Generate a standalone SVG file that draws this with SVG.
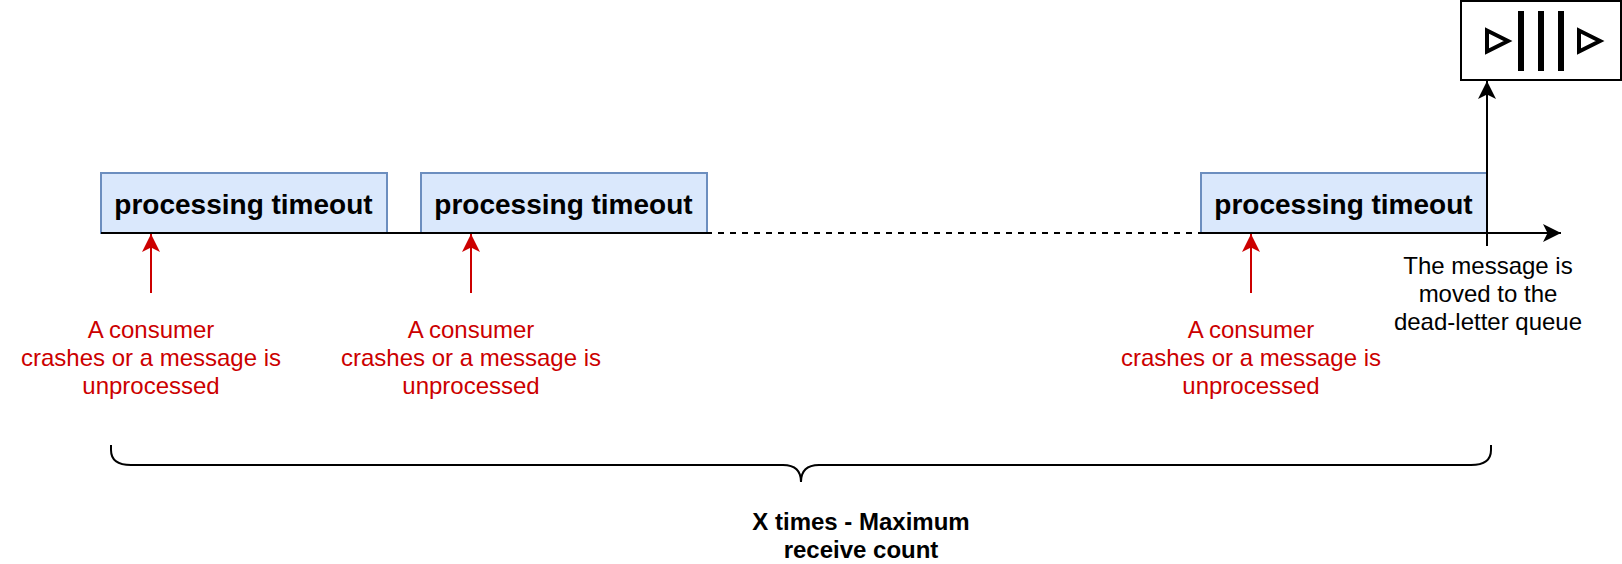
<svg xmlns="http://www.w3.org/2000/svg" width="1622" height="564" viewBox="0 0 1622 564">
<style>
text{font-family:"Liberation Sans",Arial,sans-serif;text-anchor:middle}
.box{fill:#dae8fc;stroke:#6c8ebf;stroke-width:2}
.pt{font-size:28px;font-weight:bold;fill:#000}
.red{font-size:24px;fill:#cc0000}
.blk{font-size:24px;fill:#000}
.bold{font-size:24px;font-weight:bold;fill:#000}
.ln{fill:none;stroke:#000;stroke-width:2}
.rl{fill:none;stroke:#cc0000;stroke-width:2}
</style>
<defs>
<marker id="ab" markerUnits="userSpaceOnUse" markerWidth="20" markerHeight="20" refX="18" refY="9" orient="auto"><path d="M0,0L18,9L0,18L4.5,9Z" fill="#000"/></marker>
<marker id="ar" markerUnits="userSpaceOnUse" markerWidth="20" markerHeight="20" refX="18" refY="9" orient="auto"><path d="M0,0L18,9L0,18L4.5,9Z" fill="#cc0000"/></marker>
</defs>
<g id="node-timeout-1"><rect class="box" x="101" y="173" width="286" height="60"/><text class="pt" x="243.500" y="214">processing timeout</text></g>
<g id="node-timeout-2"><rect class="box" x="421" y="173" width="286" height="60"/><text class="pt" x="563.500" y="214">processing timeout</text></g>
<g id="node-timeout-3"><rect class="box" x="1201" y="173" width="286" height="60"/><text class="pt" x="1343.500" y="214">processing timeout</text></g>
<g id="node-queue">
<rect x="1461" y="1" width="160" height="79" fill="#fff" stroke="#000" stroke-width="2"/>
<path d="M1487,30.500L1508,41L1487,51.500Z" fill="none" stroke="#000" stroke-width="4"/>
<path d="M1579,30.500L1600,41L1579,51.500Z" fill="none" stroke="#000" stroke-width="4"/>
<path d="M1521,11V71M1541,11V71M1561,11V71" fill="none" stroke="#000" stroke-width="6"/>
</g>
<g id="connectors">
<path class="ln" d="M101,233H712"/>
<path class="ln" d="M718,233H1201" stroke-dasharray="6 6"/>
<path class="ln" d="M1201,233H1561" marker-end="url(#ab)"/>
<path class="ln" d="M1487,246V81" marker-end="url(#ab)"/>
<path class="rl" d="M151,293V234" marker-end="url(#ar)"/>
<path class="rl" d="M471,293V234" marker-end="url(#ar)"/>
<path class="rl" d="M1251,293V234" marker-end="url(#ar)"/>
<path id="brace" class="ln" d="M111,445V450Q111,465 131,465H783Q801,465 801,482Q801,465 819,465H1471Q1491,465 1491,450V445"/>
</g>
<g id="label-1"><text class="red" x="151" y="338">A consumer</text><text class="red" x="151" y="366">crashes or a message is</text><text class="red" x="151" y="394">unprocessed</text></g>
<g id="label-2"><text class="red" x="471" y="338">A consumer</text><text class="red" x="471" y="366">crashes or a message is</text><text class="red" x="471" y="394">unprocessed</text></g>
<g id="label-3"><text class="red" x="1251" y="338">A consumer</text><text class="red" x="1251" y="366">crashes or a message is</text><text class="red" x="1251" y="394">unprocessed</text></g>
<g id="label-dlq"><text class="blk" x="1488" y="274">The message is</text><text class="blk" x="1488" y="302">moved to the</text><text class="blk" x="1488" y="330">dead-letter queue</text></g>
<g id="label-count"><text class="bold" x="861" y="530">X times - Maximum</text><text class="bold" x="861" y="558">receive count</text></g>
</svg>
